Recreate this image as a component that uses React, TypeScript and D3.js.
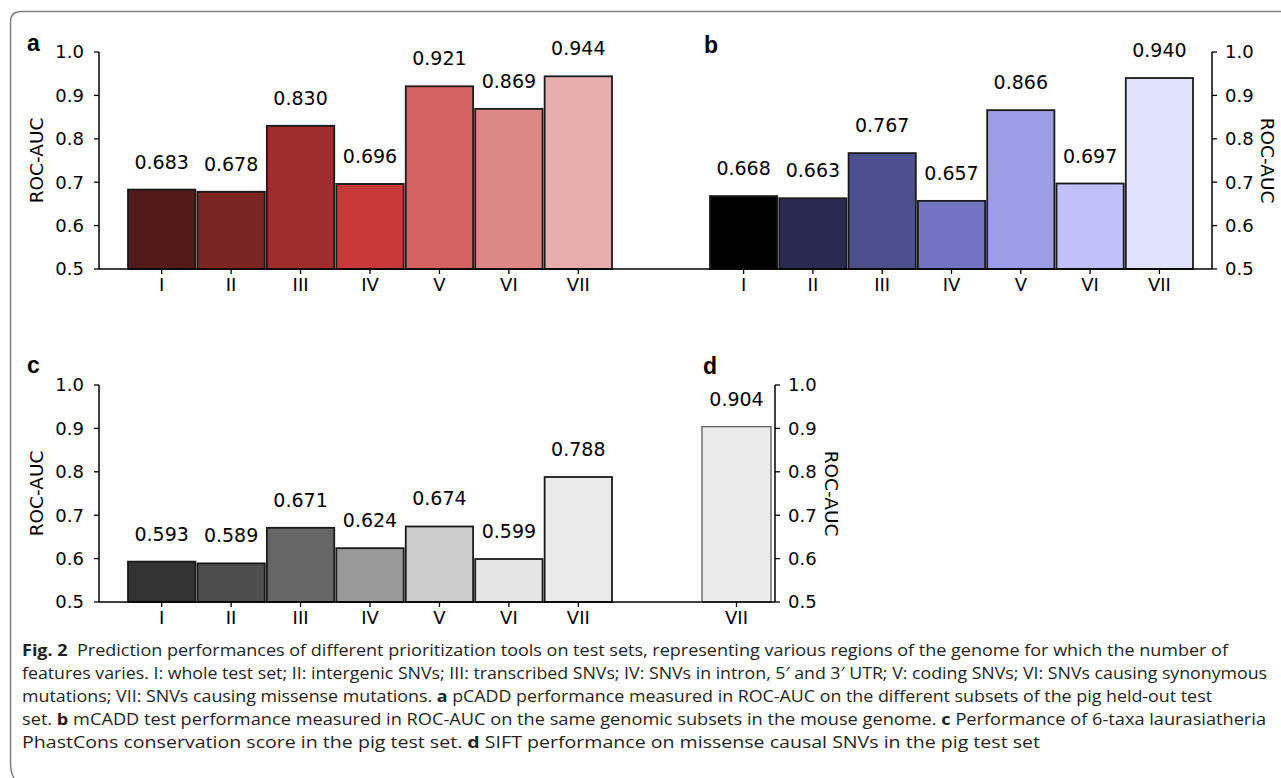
import React from "react";
import * as d3 from "d3";

// subset labels
const groups = ["I", "II", "III", "IV", "V", "VI", "VII"];
const siftGroups = ["VII"];

// ROC-AUC per subset
const pCADD = [0.683, 0.678, 0.83, 0.696, 0.921, 0.869, 0.944];
const mCADD = [0.668, 0.663, 0.767, 0.657, 0.866, 0.697, 0.94];
const phastCons = [0.593, 0.589, 0.671, 0.624, 0.674, 0.599, 0.788];
const sift = [0.904];

const yTicks = [0.5, 0.6, 0.7, 0.8, 0.9, 1.0];

const reds = ["#531a1a", "#7a2424", "#a02d2d", "#c83a3a", "#d46262", "#de8787", "#e8aeae"];
const blues = ["#000000", "#2a2a50", "#4e4f8e", "#7373c4", "#9d9ce6", "#c0c0fc", "#e0e3fc"];
const greys = ["#333333", "#4d4d4d", "#666666", "#999999", "#cccccc", "#e5e5e5", "#ebebeb"];
const siftColor = ["#ebebeb"];

const FONT = "DejaVu Sans";

type PanelProps = {
  letter: string;
  letterPos: [number, number];
  cats: string[];
  values: number[];
  colors: string[];
  xRange: [number, number];
  pad: number;
  axisX: number;
  side: "left" | "right";
  yRange: [number, number];
  spine: [number, number];
  labelX: number;
  edge: string;
  edgeW: number;
};

function Panel(p: PanelProps) {
  const x = d3.scaleBand<string>().domain(p.cats).range(p.xRange).paddingInner(p.pad);
  const y = d3.scaleLinear().domain([0.5, 1.0]).range(p.yRange);
  const base = y(0.5);
  const left = p.side === "left";
  const mid = (y(0.5) + y(1.0)) / 2;
  return (
    <g fontFamily={FONT}>
      <text x={p.letterPos[0]} y={p.letterPos[1]} fontFamily="Liberation Sans" fontWeight="bold" fontSize={23}>
        {p.letter}
      </text>
      {p.cats.map((c, i) => (
        <g key={c}>
          <rect
            x={x(c)}
            y={y(p.values[i])}
            width={x.bandwidth()}
            height={base - y(p.values[i])}
            fill={p.colors[i]}
            stroke={p.edge}
            strokeWidth={p.edgeW}
          />
          <text x={(x(c) as number) + x.bandwidth() / 2} y={y(p.values[i]) - 21} textAnchor="middle" fontSize={19}>
            {p.values[i].toFixed(3)}
          </text>
          <line
            x1={(x(c) as number) + x.bandwidth() / 2}
            x2={(x(c) as number) + x.bandwidth() / 2}
            y1={base}
            y2={base + 5}
            stroke="#000"
            strokeWidth={1.3}
          />
          <text x={(x(c) as number) + x.bandwidth() / 2} y={base + 22} textAnchor="middle" fontSize={18}>
            {c}
          </text>
        </g>
      ))}
      <line x1={p.spine[0]} x2={p.spine[1]} y1={base} y2={base} stroke="#000" strokeWidth={1.5} />
      <line x1={p.axisX} x2={p.axisX} y1={y(0.5)} y2={y(1.0)} stroke="#000" strokeWidth={1.5} />
      {yTicks.map((t) => (
        <g key={t}>
          <line
            x1={p.axisX}
            x2={left ? p.axisX - 5 : p.axisX + 5}
            y1={y(t)}
            y2={y(t)}
            stroke="#000"
            strokeWidth={1.3}
          />
          <text
            x={left ? p.axisX - 15 : p.axisX + 13}
            y={y(t)}
            dy="0.36em"
            textAnchor={left ? "end" : "start"}
            fontSize={18}
          >
            {t.toFixed(1)}
          </text>
        </g>
      ))}
      <text
        transform={`translate(${p.labelX},${mid}) rotate(${left ? -90 : 90})`}
        textAnchor="middle"
        dy="0.36em"
        fontSize={18.5}
      >
        ROC-AUC
      </text>
    </g>
  );
}

const captionLines: { parts: [string, boolean][]; width: number }[] = [
  {
    parts: [
      ["Fig. 2", true],
      ["  Prediction performances of different prioritization tools on test sets, representing various regions of the genome for which the number of", false],
    ],
    width: 1206,
  },
  {
    parts: [
      ["features varies. I: whole test set; II: intergenic SNVs; III: transcribed SNVs; IV: SNVs in intron, 5\u2032 and 3\u2032 UTR; V: coding SNVs; VI: SNVs causing synonymous", false],
    ],
    width: 1245,
  },
  {
    parts: [
      ["mutations; VII: SNVs causing missense mutations. ", false],
      ["a", true],
      [" pCADD performance measured in ROC-AUC on the different subsets of the pig held-out test", false],
    ],
    width: 1190,
  },
  {
    parts: [
      ["set. ", false],
      ["b", true],
      [" mCADD test performance measured in ROC-AUC on the same genomic subsets in the mouse genome. ", false],
      ["c", true],
      [" Performance of 6-taxa laurasiatheria", false],
    ],
    width: 1244,
  },
  {
    parts: [
      ["PhastCons conservation score in the pig test set. ", false],
      ["d", true],
      [" SIFT performance on missense causal SNVs in the pig test set", false],
    ],
    width: 1018,
  },
];

export default function App() {
  return (
    <svg width={1281} height={778} style={{ position: "absolute", left: 0, top: 0, background: "#fff" }}>
      <path
        d="M 14 778 Q 10.5 773 10.5 762 L 10.5 22 Q 10.5 11.5 21 11.5 L 1281 11.5"
        fill="none"
        stroke="#808080"
        strokeWidth={1.5}
      />
      <Panel
        letter="a"
        letterPos={[27, 51]}
        cats={groups}
        values={pCADD}
        colors={reds}
        xRange={[128, 612]}
        pad={0.03}
        axisX={99}
        side="left"
        yRange={[269, 52]}
        spine={[99, 690]}
        labelX={36}
        edge="#1a1a1a"
        edgeW={1.8}
      />
      <Panel
        letter="b"
        letterPos={[704, 53]}
        cats={groups}
        values={mCADD}
        colors={blues}
        xRange={[710, 1193]}
        pad={0.03}
        axisX={1212}
        side="right"
        yRange={[269, 52]}
        spine={[690, 1212]}
        labelX={1268}
        edge="#1a1a1a"
        edgeW={1.8}
      />
      <Panel
        letter="c"
        letterPos={[27, 373]}
        cats={groups}
        values={phastCons}
        colors={greys}
        xRange={[128, 612]}
        pad={0.03}
        axisX={99}
        side="left"
        yRange={[602, 385]}
        spine={[99, 702]}
        labelX={36}
        edge="#1a1a1a"
        edgeW={1.8}
      />
      <Panel
        letter="d"
        letterPos={[703, 374]}
        cats={siftGroups}
        values={sift}
        colors={siftColor}
        xRange={[702, 771]}
        pad={0}
        axisX={775}
        side="right"
        yRange={[602, 385]}
        spine={[702, 775]}
        labelX={832}
        edge="#666666"
        edgeW={1.4}
      />
      <g fontFamily="Open Sans" fontSize={16} fill="#231f20">
        {captionLines.map((l, i) => (
          <text key={i} x={22} y={656 + i * 23} textLength={l.width} lengthAdjust="spacingAndGlyphs">
            {l.parts.map(([s, b], j) => (
              <tspan key={j} fontWeight={b ? "bold" : "normal"} xmlSpace="preserve">
                {s}
              </tspan>
            ))}
          </text>
        ))}
      </g>
    </svg>
  );
}
